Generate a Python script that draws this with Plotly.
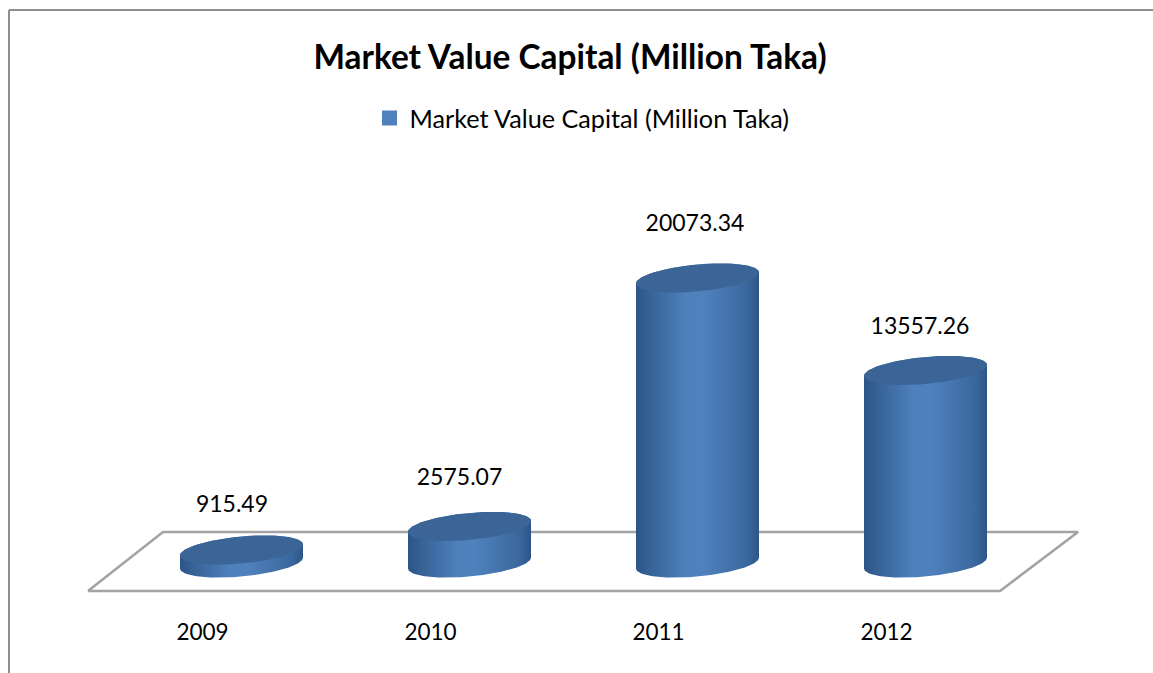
import numpy as np
import plotly.graph_objects as go

categories = ["2009", "2010", "2011", "2012"]
values = [915.49, 2575.07, 20073.34, 13557.26]
series_name = "Market Value Capital (Million Taka)"

W, H = 1153, 673
BOTTOM = 57                 # plot area ends this far above the window bottom
PX_PER_CAT = 228.0
PX_PER_VAL = 0.0142
X0_PX, Y0_PX = 241.5, 563.0 # pixel position of the first category's base centre

HALF_W = 61.5 / PX_PER_CAT
ELL_B = 13.5 / PX_PER_VAL
ELL_S = 5.5 / PX_PER_VAL

label_dx = [-9.5, -10, -2.5, -5.5]
label_dy = [44, 47, 53, 42]
FONT = "Lato"
GRAD = [[0, "#2c5586"], [0.12, "#376398"], [0.4, "#4e80bb"], [0.55, "#4f81bd"], [0.72, "#4675ae"], [0.9, "#3a689e"], [1, "#2d5688"]]
TOP = "#3a6596"

def px_x(p):
    return (p - X0_PX) / PX_PER_CAT

def px_dy(p):
    return p / PX_PER_VAL

def ellipse(i, level, t):
    return i + HALF_W * np.cos(t), level + ELL_S * np.cos(t) + ELL_B * np.sin(t)

fig = go.Figure()

# floor
floor_x = [px_x(p) for p in (88, 163, 1078, 1000, 88)]
floor_y = [px_dy(Y0_PX - p) for p in (591, 532, 532, 591, 591)]
fig.add_trace(go.Scatter(x=floor_x, y=floor_y, mode="lines", showlegend=False, hoverinfo="skip",
                         line=dict(color="#a3a3a3", width=2.5)))

for i, (c, v) in enumerate(zip(categories, values)):
    low = np.linspace(0, -np.pi, 80)
    up = np.linspace(np.pi, 0, 80)
    bx, by = ellipse(i, 0, low)
    tx, ty = ellipse(i, v, up)
    fig.add_trace(go.Scatter(x=np.r_[bx, tx], y=np.r_[by, ty], mode="lines", fill="toself",
                             fillgradient=dict(type="horizontal", colorscale=GRAD),
                             line=dict(width=0), showlegend=False, name=c, hoverinfo="skip"))
    t = np.linspace(0, 2 * np.pi, 160)
    ex, ey = ellipse(i, v, t)
    fig.add_trace(go.Scatter(x=ex, y=ey, mode="lines", fill="toself", fillcolor=TOP,
                             line=dict(width=0), showlegend=False, hoverinfo="skip"))

# data labels
fig.add_trace(go.Scatter(
    x=[i + dx / PX_PER_CAT for i, dx in enumerate(label_dx)],
    y=[v + px_dy(d) for v, d in zip(values, label_dy)],
    mode="text", text=[f"{v:.2f}" for v in values], textposition="middle center",
    textfont=dict(family=FONT, size=23, color="#000000"), showlegend=False, hoverinfo="skip"))

# legend entry
fig.add_trace(go.Scatter(x=[None], y=[None], mode="markers", name=series_name,
                         marker=dict(symbol="square", size=15, color="#4f81bd")))

PLOT_H = H - BOTTOM
fig.update_layout(
    width=W, height=H, autosize=False,
    margin=dict(l=0, r=0, t=0, b=BOTTOM),
    paper_bgcolor="#ffffff", plot_bgcolor="#ffffff",
    font=dict(family=FONT, color="#000000"),
    title=dict(text=f"<b>{series_name}</b>", x=570 / W, xanchor="center", y=1 - 57 / H, yanchor="middle",
               font=dict(family=FONT, size=33.4, color="#000000")),
    legend=dict(x=582 / W, xanchor="center", y=1 - 118 / PLOT_H, yanchor="middle",
                orientation="h", font=dict(family=FONT, size=25.2), bgcolor="rgba(0,0,0,0)"),
    xaxis=dict(range=[px_x(0), px_x(W)], showgrid=False, zeroline=False, showline=False, ticks="",
               tickmode="array", tickvals=[i - 39 / PX_PER_CAT for i in range(len(categories))],
               ticktext=categories, tickfont=dict(family=FONT, size=22.5, color="#000000"), fixedrange=True),
    yaxis=dict(range=[px_dy(Y0_PX - PLOT_H), px_dy(Y0_PX)], visible=False, fixedrange=True),
    shapes=[
        dict(type="line", xref="paper", yref="paper", x0=9 / W, x1=1, y0=1 - 10 / PLOT_H, y1=1 - 10 / PLOT_H,
             line=dict(color="#8f8f8f", width=2)),
        dict(type="line", xref="paper", yref="paper", x0=9 / W, x1=9 / W, y0=1 - 10 / PLOT_H, y1=1 - H / PLOT_H,
             line=dict(color="#8f8f8f", width=2)),
    ],
)
fig.write_html("out.html", config=dict(displayModeBar=False),
               post_script="document.body.style.margin='0';document.documentElement.style.overflow='hidden';")
